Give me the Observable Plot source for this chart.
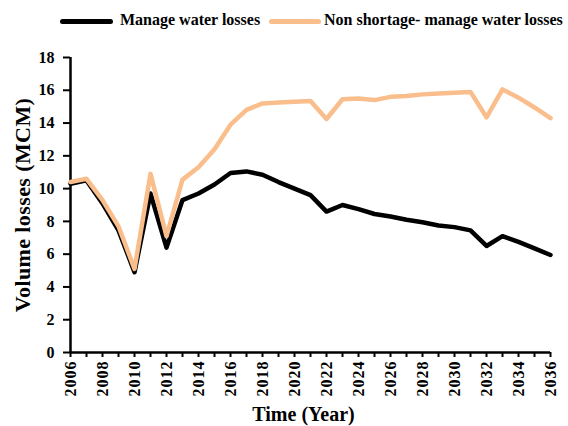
<!DOCTYPE html>
<html>
<head>
<meta charset="utf-8">
<script src="https://cdn.jsdelivr.net/npm/d3@7"></script>
<script src="https://cdn.jsdelivr.net/npm/@observablehq/plot@0.6"></script>
<style>
  body { margin: 0; background: #fff; }
  #wrap { width: 568px; height: 426px; position: relative; font-family: "Liberation Serif", "Times New Roman", serif; font-weight: bold; color: #000; }
  #legend { position: relative; height: 36px; width: 568px; }
  .sw { position: absolute; height: 5px; border-radius: 3px; top: 19px; }
  .lt { position: absolute; top: 11px; font-size: 16px; white-space: nowrap; line-height: 18px; }
</style>
</head>
<body>
<div id="wrap">
  <div id="legend">
    <div class="sw" style="left:60px;width:53px;background:#000"></div>
    <div class="lt" style="left:120px">Manage water losses</div>
    <div class="sw" style="left:269px;width:52px;background:#F9BE8C"></div>
    <div class="lt" style="left:324px">Non shortage- manage water losses</div>
  </div>
  <div id="chart"></div>
</div>
<script>
const years = d3.range(2006, 2037);
const manage = [10.3, 10.5, 9.1, 7.45, 4.9, 9.7, 6.4, 9.3, 9.7, 10.25, 10.95, 11.05, 10.85, 10.4, 10.0, 9.6, 8.6, 9.0, 8.75, 8.45, 8.3, 8.1, 7.95, 7.75, 7.65, 7.45, 6.5, 7.1, 6.75, 6.35, 5.95];
const nonShortage = [10.4, 10.6, 9.3, 7.7, 5.1, 10.9, 7.1, 10.55, 11.3, 12.4, 13.9, 14.8, 15.2, 15.25, 15.3, 15.35, 14.25, 15.45, 15.5, 15.4, 15.6, 15.65, 15.75, 15.8, 15.85, 15.9, 14.35, 16.05, 15.55, 14.95, 14.3];
const yTicks = d3.range(0, 19, 2);
const xLabelYears = d3.range(2006, 2037, 2);

const dataManage = years.map((y, i) => ({year: y, value: manage[i]}));
const dataNon = years.map((y, i) => ({year: y, value: nonShortage[i]}));

const font = '"Liberation Serif", "Times New Roman", serif';

const chart = Plot.plot({
  width: 568,
  height: 390,
  marginTop: 21,
  marginBottom: 74,
  marginLeft: 70,
  marginRight: 18,
  style: {fontFamily: font, fontWeight: "bold", color: "#000", background: "#fff"},
  x: {domain: [2006, 2036]},
  y: {domain: [0, 18]},
  marks: [
    Plot.axisY({ticks: yTicks, tickSize: 7, tickPadding: 9, fontSize: 16, strokeWidth: 2, label: null}),
    Plot.axisX({ticks: years, tickFormat: d => (xLabelYears.includes(d) ? String(d) : ""), tickRotate: -90, tickSize: 5, tickPadding: 3, fontSize: 16, strokeWidth: 2, label: null}),
    Plot.ruleX([2006], {y1: 0, y2: 18, strokeWidth: 2.5}),
    Plot.ruleY([0], {strokeWidth: 2.5}),
    Plot.line(dataManage, {x: "year", y: "value", stroke: "#000", strokeWidth: 4.5}),
    Plot.line(dataNon, {x: "year", y: "value", stroke: "#F9BE8C", strokeWidth: 4.5}),
    Plot.text(["Volume losses (MCM)"], {frameAnchor: "left", rotate: -90, dx: -48, textAnchor: "middle", fontSize: 22, fontWeight: "bold"}),
    Plot.text(["Time (Year)"], {frameAnchor: "bottom", dy: 68, dx: -7, fontSize: 20, fontWeight: "bold"})
  ]
});
d3.select(chart).selectAll('g[aria-label="x-axis tick label"] text').style("letter-spacing", "1px");
d3.select(chart).selectAll('g[aria-label="text"] text').filter(function() { return this.textContent === "Volume losses (MCM)"; }).style("letter-spacing", "0.4px");
document.getElementById("chart").appendChild(chart);
</script>
</body>
</html>
